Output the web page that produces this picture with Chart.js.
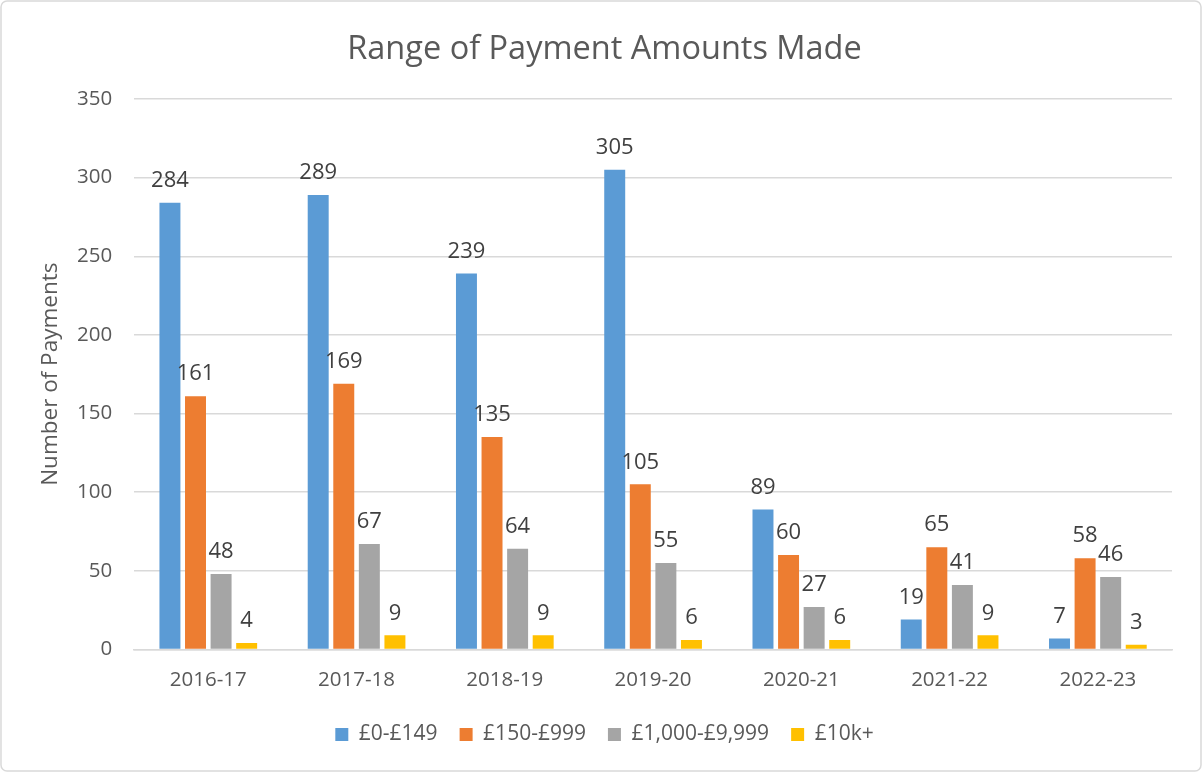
<!DOCTYPE html>
<html>
<head>
<meta charset="utf-8">
<script src="https://cdn.jsdelivr.net/npm/chart.js@4/dist/chart.umd.min.js"></script>
<style>
  html, body { margin: 0; padding: 0; background: #fff; }
  #wrap { width: 1202px; height: 772px; }
</style>
</head>
<body>
<div id="wrap"><canvas id="paymentsChart" width="1202" height="772"></canvas></div>
<script>
const years = ['2016-17', '2017-18', '2018-19', '2019-20', '2020-21', '2021-22', '2022-23'];
const band0to149 = [284, 289, 239, 305, 89, 19, 7];
const band150to999 = [161, 169, 135, 105, 60, 65, 58];
const band1kTo10k = [48, 67, 64, 55, 27, 41, 46];
const band10kPlus = [4, 9, 9, 6, 6, 9, 3];
const yTicks = [0, 50, 100, 150, 200, 250, 300, 350];

const FONT = '"Open Sans", sans-serif';
const TEXT = '#595959';

// white page + light rounded frame like the office chart
const frame = {
    id: 'frame',
    beforeDraw(chart) {
        const ctx = chart.ctx;
        ctx.save();
        ctx.fillStyle = '#fff';
        ctx.fillRect(0, 0, chart.width, chart.height);
        ctx.strokeStyle = '#d9d9d9';
        ctx.lineWidth = 1.5;
        ctx.beginPath();
        ctx.roundRect(1, 1, chart.width - 2, chart.height - 2, 6);
        ctx.stroke();
        ctx.restore();
    }
};

// value labels above each bar
const barValues = {
    id: 'barValues',
    afterDatasetsDraw(chart) {
        const ctx = chart.ctx;
        ctx.save();
        ctx.font = '22px ' + FONT;
        ctx.fillStyle = '#404040';
        ctx.textAlign = 'center';
        ctx.textBaseline = 'middle';
        chart.data.datasets.forEach((ds, i) => {
            chart.getDatasetMeta(i).data.forEach((bar, j) => {
                ctx.fillText(ds.data[j], bar.x, bar.y - 22);
            });
        });
        ctx.restore();
    }
};

new Chart('paymentsChart', {
    type: 'bar',
    data: {
        labels: years,
        datasets: [
            { label: '£0-£149', data: band0to149, backgroundColor: '#5b9bd5' },
            { label: '£150-£999', data: band150to999, backgroundColor: '#ed7d31' },
            { label: '£1,000-£9,999', data: band1kTo10k, backgroundColor: '#a5a5a5' },
            { label: '£10k+', data: band10kPlus, backgroundColor: '#ffc000' }
        ]
    },
    options: {
        responsive: false,
        animation: false,
        datasets: {
            bar: { categoryPercentage: 0.69, barPercentage: 0.82 }
        },
        layout: { padding: { left: 37, right: 30, top: 24, bottom: 17 } },
        plugins: {
            title: {
                display: true,
                text: 'Range of Payment Amounts Made',
                color: TEXT,
                font: { family: FONT, size: 32.5, weight: 'normal' },
                padding: { top: 6, bottom: 30 }
            },
            legend: {
                position: 'bottom',
                labels: {
                    color: TEXT,
                    font: { family: FONT, size: 21 },
                    boxWidth: 13,
                    boxHeight: 13,
                    padding: 22
                }
            },
            tooltip: { enabled: false }
        },
        scales: {
            y: {
                min: 0,
                max: 350,
                afterBuildTicks(axis) {
                    axis.ticks = yTicks.map(v => ({ value: v }));
                },
                grid: { color: '#d9d9d9', lineWidth: 1.5, drawTicks: false },
                border: { display: false },
                ticks: { color: TEXT, font: { family: FONT, size: 20.5 }, padding: 22 },
                title: {
                    display: true,
                    text: 'Number of Payments',
                    color: TEXT,
                    font: { family: FONT, size: 22.5 },
                    padding: { top: 0, bottom: -9 }
                }
            },
            x: {
                grid: { display: false },
                border: { color: '#d9d9d9', width: 1.5 },
                ticks: { color: TEXT, font: { family: FONT, size: 20.5 }, padding: 10 }
            }
        }
    },
    plugins: [frame, barValues]
});
</script>
</body>
</html>
